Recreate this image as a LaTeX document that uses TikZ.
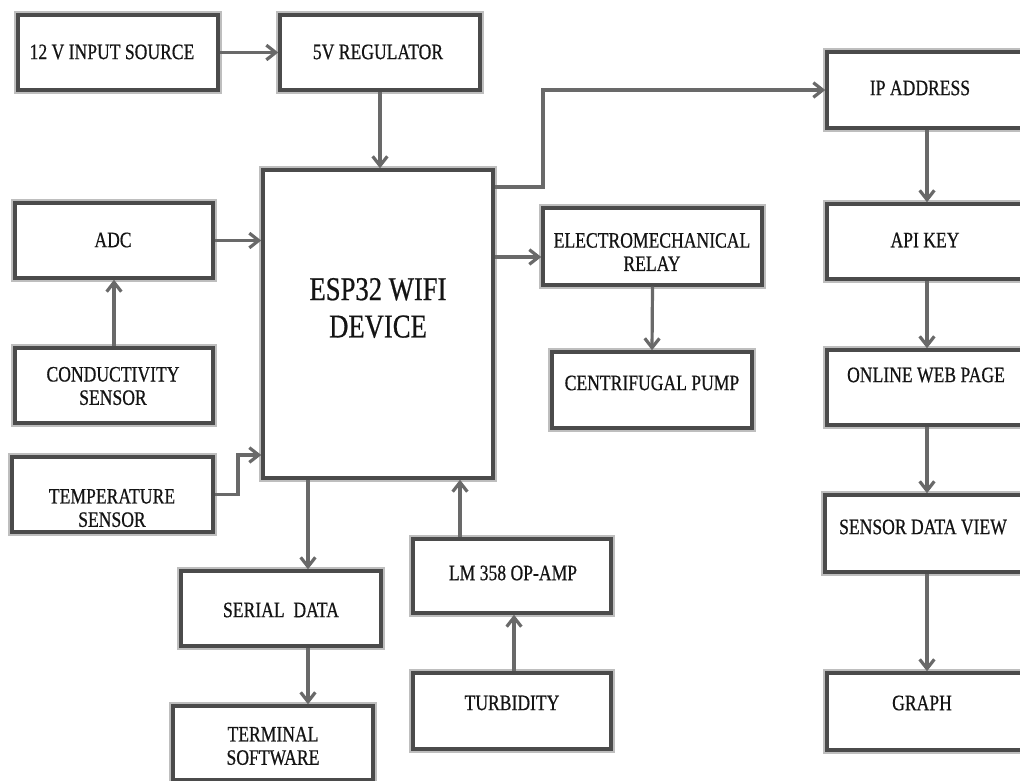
\documentclass[tikz,border=0pt]{standalone}
\usepackage{fontspec}
\setmainfont{Liberation Serif}[FakeStretch=0.8, FakeBold=0.6]
\usetikzlibrary{arrows.meta}
\definecolor{boxc}{RGB}{75,75,75}
\definecolor{arrc}{RGB}{105,105,105}
\definecolor{halo}{RGB}{190,190,190}
\definecolor{txt}{RGB}{20,20,20}
\begin{document}
\begin{tikzpicture}[x=0.75pt,y=-0.75pt,
  box/.style={draw=boxc, line width=2.6pt, fill=white, inner sep=0pt,
    preaction={draw=halo, line width=5.6pt}},
  sz/.style 2 args={minimum width=#1*0.75pt, minimum height=#2*0.75pt},
  lbl/.style={text=txt, align=center, inner sep=0pt,
    font=\fontsize{16.5}{17.5}\selectfont},
  big/.style={text=txt, align=center, inner sep=0pt,
    font=\fontsize{25}{28}\selectfont},
  arr/.style={draw=arrc, line width=2.4pt,
    -{Straight Barb[length=7pt,width=11pt]}},
]
\useasboundingbox (0,0) rectangle (1020,781);
\clip (0,0) rectangle (1020,781);

% boxes
\node[box, sz={200}{75}] (src) at (118,52.5) {};
\node[box, sz={200}{75}] (reg) at (380,52.5) {};
\node[box, sz={230}{308}] (esp) at (378,324) {};
\node[box, sz={198}{75}] (adc) at (114,240.5) {};
\node[box, sz={198}{75}] (cond) at (114,385.5) {};
\node[box, sz={201}{75}] (temp) at (112.5,494.5) {};
\node[box, sz={200}{75}] (serial) at (281,608.5) {};
\node[box, sz={200}{74}] (term) at (273,743) {};
\node[box, sz={198}{74}] (lm) at (512,576) {};
\node[box, sz={198}{76}] (turb) at (512,711) {};
\node[box, sz={219}{77}] (relay) at (652.5,246.5) {};
\node[box, sz={200}{76}] (pump) at (652,390) {};
\node[box, sz={203}{76}] (ip) at (928.5,90) {};
\node[box, sz={203}{75}] (api) at (928.5,241.5) {};
\node[box, sz={203}{75}] (web) at (928.5,387.5) {};
\node[box, sz={205}{77}] (sdv) at (927.5,533.5) {};
\node[box, sz={203}{77}] (graph) at (928.5,711.5) {};

% texts
\node[lbl] (srcT) at (112,52) {12 V INPUT SOURCE};
\node[lbl] (regT) at (378,52) {5V REGULATOR};
\node[big] (espT) at (378,308) {ESP32 WIFI\\DEVICE};
\node[lbl] (adcT) at (113,240) {ADC};
\node[lbl] (condT) at (113,386) {CONDUCTIVITY\\SENSOR};
\node[lbl] (tempT) at (112,508) {TEMPERATURE\\SENSOR};
\node[lbl] (serialT) at (281,610) {SERIAL\ \ DATA};
\node[lbl] (termT) at (273,746) {TERMINAL\\SOFTWARE};
\node[lbl] (lmT) at (513,573) {LM 358 OP-AMP};
\node[lbl] (turbT) at (512,703) {TURBIDITY};
\node[lbl] (relayT) at (652,252) {ELECTROMECHANICAL\\RELAY};
\node[lbl] (pumpT) at (652,383) {CENTRIFUGAL PUMP};
\node[lbl] (ipT) at (920,88) {IP ADDRESS};
\node[lbl] (apiT) at (925,240) {API KEY};
\node[lbl] (webT) at (926,375) {ONLINE WEB PAGE};
\node[lbl] (sdvT) at (923,527) {SENSOR DATA VIEW};
\node[lbl] (graphT) at (922,703) {GRAPH};

% helper coordinates
\coordinate (tk) at (238,455);
\coordinate (xs) at (308,0);
\coordinate (xl) at (460,0);
\coordinate (xt) at (514,0);
\coordinate (yr) at (0,257);
\coordinate (ipk) at (543,187);
\coordinate (xr) at (927,0);

% connectors
\draw[arr] (src.east) -- (reg.west);
\draw[arr] (reg.south) -- (reg.south |- esp.north);
\draw[arr] (adc.east) -- (adc.east -| esp.west);
\draw[arr] (cond.north) -- (adc.south);
\draw[arr] (temp.east) -| (tk) -- (tk -| esp.west);
\draw[arr] (esp.south -| xs) -- (serial.north -| xs);
\draw[arr] (serial.south -| xs) -- (term.north -| xs);
\draw[arr] (lm.north -| xl) -- (esp.south -| xl);
\draw[arr] (turb.north -| xt) -- (lm.south -| xt);
\draw[arr] (esp.east |- yr) -- (relay.west |- yr);
\draw[arr] (relay.south) -- (pump.north);
\draw[arr] (esp.east |- ipk) -- (ipk) |- (ip.west);
\draw[arr] (ip.south -| xr) -- (api.north -| xr);
\draw[arr] (api.south -| xr) -- (web.north -| xr);
\draw[arr] (web.south -| xr) -- (sdv.north -| xr);
\draw[arr] (sdv.south -| xr) -- (graph.north -| xr);
\end{tikzpicture}
\end{document}
